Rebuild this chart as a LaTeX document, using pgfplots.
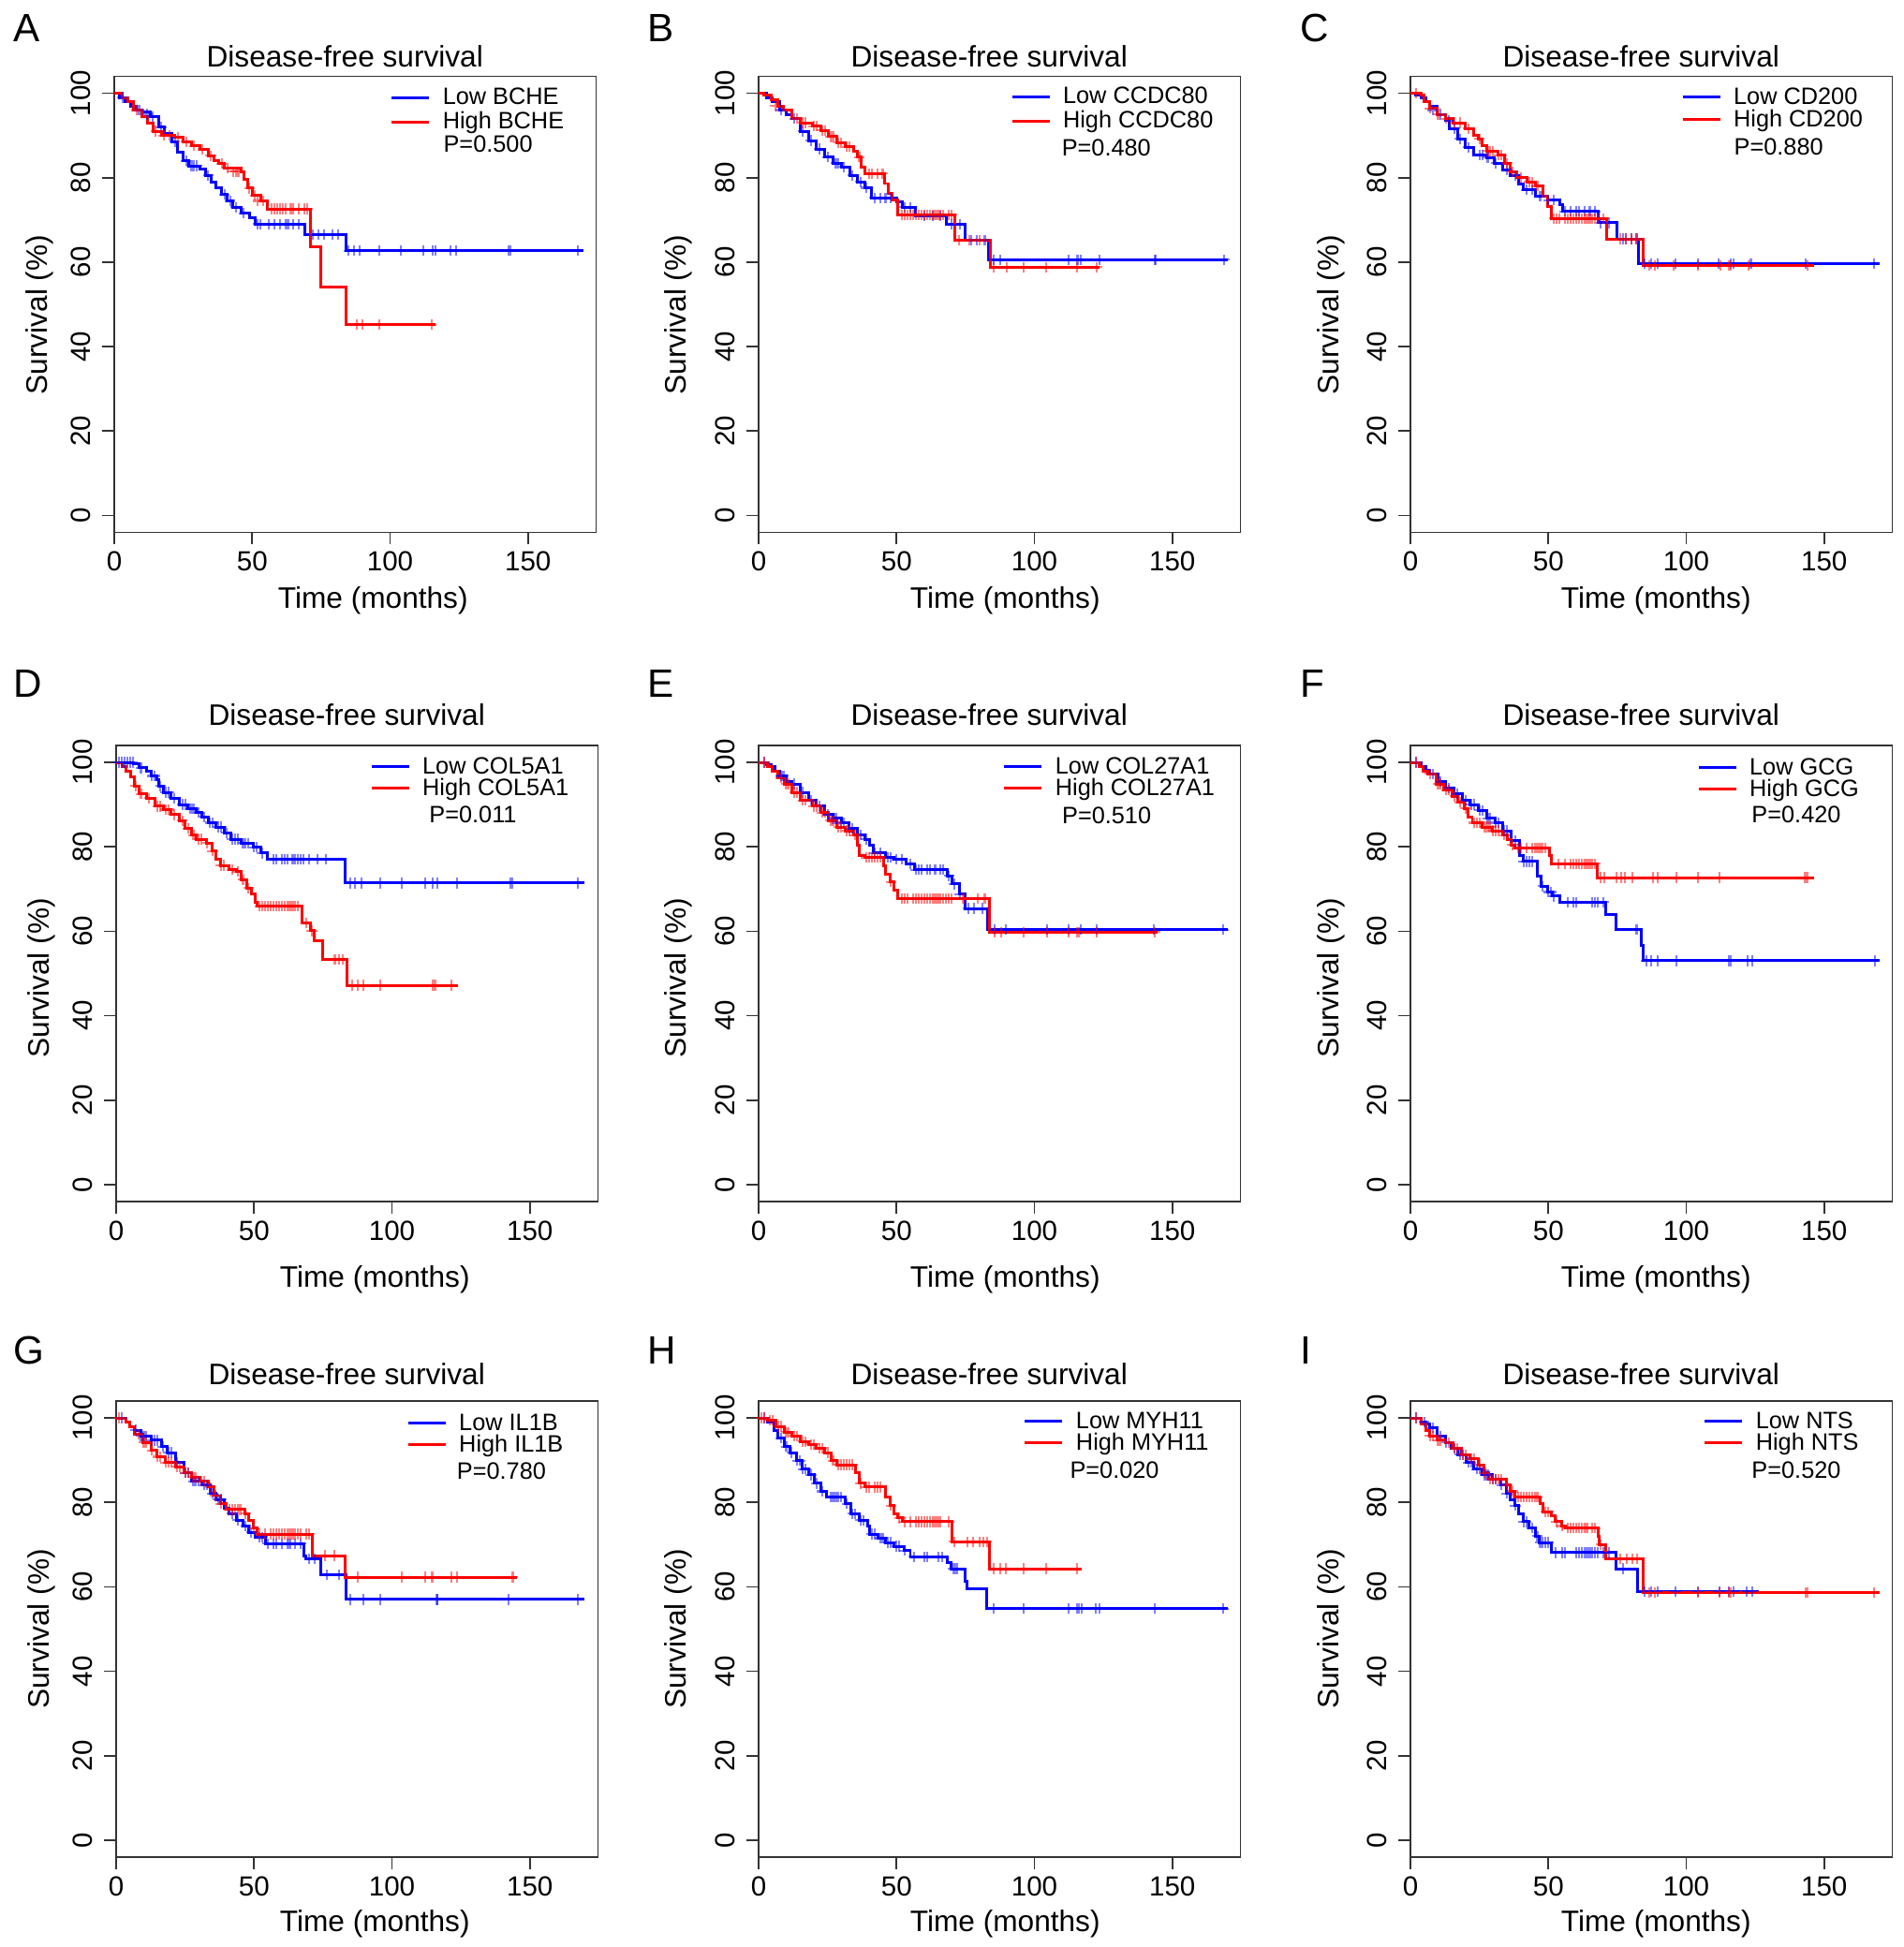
\documentclass[border=0pt]{standalone}
\usepackage{fontspec}
\setmainfont{Liberation Sans}
\usepackage{pgfplots}
\pgfplotsset{compat=1.18}

\newcommand\legfont{\fontsize{7.2}{8.6}\selectfont}
\newcommand\titfont{\fontsize{9}{10.8}\selectfont}
\newcommand\labfont{\fontsize{9}{10.8}\selectfont}
\newcommand\ticfont{\fontsize{8.4}{10}\selectfont}
\newcommand\letfont{\fontsize{12}{14}\selectfont}

\definecolor{rblue}{RGB}{0,0,255}
\definecolor{rred}{RGB}{255,0,0}

\pgfplotsset{
  km/.style={
    scale only axis, width=5.145cm, height=4.87cm,
    anchor=south west,
    xmin=0, xmax=174.7, ymin=-4, ymax=104,
    xtick={0,50,100,150}, ytick={0,20,40,60,80,100},
    xtick pos=bottom, ytick pos=left,
    tick align=outside, major tick length=0.13cm,
    axis line style={black!80, line width=0.5pt},
    tick style={black!80, line width=0.5pt},
    /pgf/number format/assume math mode=true,
    tick label style={font=\ticfont},
    xticklabel style={anchor=north, inner xsep=0pt, inner ysep=0.07cm},
    yticklabel style={rotate=90, anchor=south, inner xsep=0pt, inner ysep=0.115cm},
    title=Disease-free survival,
    every axis title/.style={at={(0.5,1)}, anchor=base, font=\titfont, xshift=-0.11cm},
    xlabel={Time (months)},
    ylabel={Survival (\%)},
    every axis x label/.style={at={(axis description cs:0.5,0)}, anchor=base, font=\labfont},
    every axis y label/.style={anchor=base, rotate=90, font=\labfont},
    legend cell align=left,
    legend style={draw=none, fill=none, inner sep=0pt, outer sep=0pt,
      anchor=north west, font=\legfont, row sep=0.02cm,
      /tikz/every odd column/.append style={column sep=0.13cm},
      nodes={inner sep=0pt, text height=0.18cm, text depth=0.03cm}},
    legend image code/.code={\draw[##1, line width=0.85pt] (0cm,0cm) -- (0.4cm,0cm);},
  },
  row1/.style={title style={yshift=0.10cm}, xlabel style={yshift=-0.81cm}},
  row2/.style={title style={yshift=0.21cm}, xlabel style={yshift=-0.92cm}},
  row3/.style={title style={yshift=0.17cm}, xlabel style={yshift=-0.79cm}},
  lowc/.style={const plot, no marks, color=rblue, line width=0.85pt},
  highc/.style={const plot, no marks, color=rred, line width=0.85pt},
  lowm/.style={only marks, mark=+, color=rblue, mark size=1.6pt,
    mark options={line width=0.6pt}, opacity=0.5, forget plot},
  highm/.style={only marks, mark=+, color=rred, mark size=1.6pt,
    mark options={line width=0.6pt}, opacity=0.5, forget plot},
}

\begin{document}
\begin{tikzpicture}
\useasboundingbox (0,0) rectangle (20.32,20.79);

% panel letters
\node[anchor=west, inner sep=0pt, font=\letfont] at (0.14,20.49) {A};
\node[anchor=west, inner sep=0pt, font=\letfont] at (6.91,20.49) {B};
\node[anchor=west, inner sep=0pt, font=\letfont] at (13.88,20.49) {C};
\node[anchor=west, inner sep=0pt, font=\letfont] at (0.14,13.485) {D};
\node[anchor=west, inner sep=0pt, font=\letfont] at (6.91,13.485) {E};
\node[anchor=west, inner sep=0pt, font=\letfont] at (13.88,13.485) {F};
\node[anchor=west, inner sep=0pt, font=\letfont] at (0.14,6.37) {G};
\node[anchor=west, inner sep=0pt, font=\letfont] at (6.91,6.37) {H};
\node[anchor=west, inner sep=0pt, font=\letfont] at (13.88,6.37) {I};

% ---------- A: BCHE
\begin{axis}[km, row1, at={(1.22cm,15.105cm)},
  xlabel style={xshift=0.19cm},
  ylabel style={at={(axis description cs:-0.139,0.477)}},
  legend style={at={(0.573,0.975)}, row sep=0.05cm}]
\addplot[lowc] coordinates {(0,100) (2,99) (4,98) (6,97) (8,96) (10,95.5) (13,94.5) (16,92) (18,90.5) (21,88.5) (23,86) (25,84) (27,82.8) (31,82) (33,80.5) (35,79) (37,77.5) (39,76) (41,74.5) (43,73) (46,71.6) (49,70.5) (51,69) (69,66.5) (84,62.7) (170,62.7)};
\addlegendentry{Low BCHE}
\addplot[highc] coordinates {(0,100) (3,99) (5,98) (7,96) (10,94.5) (12,93) (14,91) (17,90) (22,89.6) (25,88.5) (28,87.5) (31,86.7) (34,85.2) (36,84) (38,83.3) (40,82.3) (46,81.4) (47,79.5) (48.5,77.5) (50,75.8) (53,74.5) (55.5,72.6) (71.2,63.6) (75,54.2) (84,45.2) (116.5,45.2)};
\addlegendentry{High BCHE}
\addplot[lowm] coordinates {(3,99) (9,96) (12,95) (14,94.5) (17,92) (22,88.5) (26,84) (28,82.8) (29,82.8) (30,82.8) (34,80.5) (40,76) (42,74.5) (44,73) (47,71.6) (52,69) (53,69) (56,69) (58,69) (60,69) (62,69) (63,69) (65,69) (67,69) (72,66.5) (74,66.5) (76,66.5) (79,66.5) (81,66.5) (85,62.7) (87,62.7) (89,62.7) (96,62.7) (104,62.7) (112,62.7) (115.5,62.7) (116.5,62.7) (122,62.7) (124,62.7) (143,62.7) (143.6,62.7) (168,62.7)};
\addplot[highm] coordinates {(8,96) (15,91) (18,90) (20,90) (23,89.6) (26,88.5) (29,87.5) (32,86.7) (35,85.2) (39,83.3) (41,82.3) (43,81.4) (44,81.4) (45,81.4) (49,77.5) (51,75.8) (52,74.5) (54,74.5) (57,72.6) (58,72.6) (59,72.6) (60,72.6) (61,72.6) (62,72.6) (64,72.6) (65,72.6) (67,72.6) (69,72.6) (70,72.6) (88,45.2) (90,45.2) (96,45.2) (115,45.2)};
\node[anchor=base west, inner sep=0pt, font=\legfont] at (axis description cs:0.682,0.833) {P=0.500};
\end{axis}

% ---------- B: CCDC80
\begin{axis}[km, row1, at={(8.10cm,15.105cm)},
  xlabel style={xshift=0.06cm},
  ylabel style={at={(axis description cs:-0.15,0.477)}},
  legend style={at={(0.523,0.977)}, row sep=0.05cm}]
\addplot[lowc] coordinates {(0,100) (3,99) (5,98) (7.5,96) (10,95) (12,94) (15,91) (18,88.8) (21,86.8) (24,84.9) (27,83.4) (30,82.5) (33,80.5) (35.8,79) (38.7,77.6) (41,75.2) (50,74.2) (52,73) (57,71) (68,68.9) (75,65.2) (83.5,60.6) (170,60.6)};
\addlegendentry{Low CCDC80}
\addplot[highc] coordinates {(0,100) (2,99.5) (4.7,98.5) (7,97) (9,96) (12,94) (15,93) (19.5,92.2) (22.5,91.2) (25.4,89.7) (28.4,88.3) (31.3,87.3) (34.3,86.3) (35.8,84.9) (37.2,82.5) (38.7,81) (45.5,78.6) (47,76.2) (48.5,74.7) (50.5,71.2) (71,65.2) (84,58.8) (123.7,58.8)};
\addlegendentry{High CCDC80}
\addplot[lowm] coordinates {(8,96) (13,94) (16,91) (19,88.8) (22,86.8) (25,84.9) (28,83.4) (29,83.4) (31,82.5) (34,80.5) (37,79) (39,77.6) (42,75.2) (44,75.2) (46,75.2) (48,75.2) (53,73) (55,73) (60,71) (63,71) (66,71) (70,68.9) (73,68.9) (77,65.2) (79,65.2) (82,65.2) (85.3,60.6) (87.5,60.6) (112.3,60.6) (115.6,60.6) (116.7,60.6) (123.7,60.6) (143.6,60.6) (144,60.6) (168.8,60.6)};
\addplot[highm] coordinates {(6,97) (14,94) (16,93) (17,93) (20,92.2) (21,92.2) (23,91.2) (24,91.2) (26,89.7) (27,89.7) (29,88.3) (30,88.3) (32,87.3) (33,87.3) (36.5,84.9) (40,81) (41,81) (43,81) (45,81) (52,71.2) (53,71.2) (54,71.2) (55,71.2) (56,71.2) (57,71.2) (58,71.2) (59,71.2) (60,71.2) (61,71.2) (62,71.2) (63,71.2) (64,71.2) (65,71.2) (66,71.2) (67,71.2) (69,71.2) (70,71.2) (72.7,65.2) (76.4,65.2) (80.1,65.2) (85.3,58.8) (90.1,58.8) (96,58.8) (104.2,58.8) (115.3,58.8) (122.7,58.8)};
\node[anchor=base west, inner sep=0pt, font=\legfont] at (axis description cs:0.628,0.826) {P=0.480};
\end{axis}

% ---------- C: CD200
\begin{axis}[km, row1, at={(15.06cm,15.105cm)},
  xlabel style={xshift=0.05cm},
  ylabel style={at={(axis description cs:-0.148,0.477)}},
  legend style={at={(0.562,0.976)}, row sep=0.03cm}]
\addplot[lowc] coordinates {(0,100) (2,99.5) (3.8,99) (5.5,98) (6.8,96.9) (9.7,95) (12.7,93.5) (14.2,91.6) (17.1,89.2) (20,87.2) (23,85.3) (27.5,84.8) (30.4,83.4) (33.4,81.9) (36.3,80.5) (39.3,78.5) (40.8,77.1) (45.2,75.6) (49.6,74.7) (54,73.7) (55,72) (68,69.3) (75,65.5) (82.8,59.7) (170,59.7)};
\addlegendentry{Low CD200}
\addplot[highc] coordinates {(0,100) (3.8,99.5) (5,98) (6.8,96.4) (9.7,95) (12.7,94) (15.6,93) (20,91.6) (23,90.1) (24.5,89.2) (26,87.5) (27.5,86.3) (31.9,85.3) (34,83.4) (36.3,81.4) (38.5,80) (42.2,79) (45.2,78) (48.1,75.6) (49.6,73.2) (51,70.3) (71,65.5) (84.3,59.2) (146.3,59.2)};
\addlegendentry{High CD200}
\addplot[lowm] coordinates {(8,96) (11,95) (14,93.5) (16,91.6) (18,89.2) (21,87.2) (25,85.3) (26,85.3) (28,84.8) (31,83.4) (35,81.9) (38,80.5) (42,77.1) (44,77.1) (47,75.6) (50,74.7) (52,74.7) (56,72) (58,72) (60,72) (61,72) (63,72) (65,72) (67,72) (69,69.3) (72,69.3) (77,65.5) (78,65.5) (80,65.5) (82,65.5) (85,59.7) (87.3,59.7) (89.5,59.7) (96.1,59.7) (104.2,59.7) (111.6,59.7) (116.1,59.7) (117.2,59.7) (123.4,59.7) (143.4,59.7) (168.2,59.7)};
\addplot[highm] coordinates {(2,100) (7,96.4) (10,95) (13,94) (16,93) (18,93) (21,91.6) (25,89.2) (28,86.3) (29,86.3) (30,86.3) (32,85.3) (33,85.3) (35,83.4) (37,81.4) (40,80) (43,79) (44,79) (46,78) (52,70.3) (53,70.3) (54,70.3) (56,70.3) (57,70.3) (58,70.3) (59,70.3) (60,70.3) (61,70.3) (62,70.3) (63,70.3) (64,70.3) (65,70.3) (66,70.3) (67,70.3) (68,70.3) (70,70.3) (76,65.5) (78,65.5) (80,65.5) (82,65.5) (86.5,59.2) (88.7,59.2) (95.4,59.2) (104.2,59.2) (112.4,59.2) (115.3,59.2) (116,59.2) (122.7,59.2) (144.1,59.2)};
\node[anchor=base west, inner sep=0pt, font=\legfont] at (axis description cs:0.6705,0.8275) {P=0.880};
\end{axis}

% ---------- D: COL5A1
\begin{axis}[km, row2, at={(1.24cm,7.96cm)},
  xlabel style={xshift=0.19cm},
  ylabel style={at={(axis description cs:-0.139,0.49)}},
  legend style={at={(0.527,0.975)}}]
\addplot[lowc] coordinates {(0,100) (6.2,99.7) (8.2,98.7) (11,97.8) (12.6,96.8) (14.8,95.8) (15.6,94.4) (17,92.9) (20,91.5) (23,90) (26,89) (29,88.1) (31,87.1) (33.3,85.7) (36.3,84.7) (39.3,83.3) (41.5,81.8) (45.2,80.9) (49.7,79.9) (52.6,78.5) (54.8,77) (83,71.4) (169.7,71.4)};
\addlegendentry{Low COL5A1}
\addplot[highc] coordinates {(0,100) (2.2,99) (3.7,98) (5.2,96.5) (6.7,94.4) (8.2,92.5) (11,91.5) (14,89.6) (17,88.8) (20,87.6) (23,86.2) (25,84.3) (27.4,82.8) (28.9,81.8) (32.6,80.9) (34.8,79) (36.3,77) (37.8,75.6) (40.8,74.6) (43.7,74.1) (45.2,72.2) (47.4,70.2) (48.9,68.8) (50.4,66.9) (51.1,65.9) (67.4,62) (70.4,60.1) (71.9,57.7) (74.8,53.3) (83.7,47.2) (123.8,47.2)};
\addlegendentry{High COL5A1}
\addplot[lowm] coordinates {(1,100) (2,100) (3,100) (4,100) (5,100) (6,100) (9,98.7) (13,96.8) (14,96.8) (16,94.4) (18,92.9) (19,92.9) (21,91.5) (24,90) (25,90) (27,89) (28,89) (30,88.1) (32,87.1) (34,85.7) (35,85.7) (37,84.7) (38,84.7) (40,83.3) (42,81.8) (43,81.8) (44,81.8) (46,80.9) (47,80.9) (48,80.9) (50,79.9) (51,79.9) (53,78.5) (57,77) (58,77) (60,77) (61,77) (62,77) (64,77) (65,77) (66,77) (67,77) (68,77) (70,77) (73,77) (76,77) (84.9,71.4) (86.7,71.4) (88.9,71.4) (95.6,71.4) (103.7,71.4) (111.9,71.4) (114.9,71.4) (116.6,71.4) (123.5,71.4) (143,71.4) (143.5,71.4) (167.5,71.4)};
\addplot[highm] coordinates {(7,94.4) (9,92.5) (12,91.5) (15,89.6) (16,89.6) (18,88.8) (19,88.8) (21,87.6) (24,86.2) (26,84.3) (28,82.8) (30,81.8) (31,81.8) (33,80.9) (35,79) (38,75.6) (39,75.6) (42,74.6) (44,74.1) (46,72.2) (48,70.2) (52,65.9) (53,65.9) (54,65.9) (55,65.9) (56,65.9) (57,65.9) (58,65.9) (59,65.9) (60,65.9) (61,65.9) (62,65.9) (63,65.9) (64,65.9) (65,65.9) (66,65.9) (69,62) (71,60.1) (79.3,53.3) (80.8,53.3) (82.3,53.3) (85.5,47.2) (87.7,47.2) (89.7,47.2) (95.6,47.2) (114.9,47.2) (115.6,47.2) (121.5,47.2)};
\node[anchor=base west, inner sep=0pt, font=\legfont] at (axis description cs:0.6486,0.830) {P=0.011};
\end{axis}

% ---------- E: COL27A1
\begin{axis}[km, row2, at={(8.10cm,7.96cm)},
  xlabel style={xshift=0.06cm},
  ylabel style={at={(axis description cs:-0.15,0.49)}},
  legend style={at={(0.507,0.975)}}]
\addplot[lowc] coordinates {(0,100) (3,99.5) (4.7,99) (6,98) (7.7,96.8) (10,95.5) (12.1,94.9) (15,92.9) (18,91) (21,89.6) (24,87.6) (26.9,86.7) (29.9,85.7) (32.8,84.3) (35.8,82.8) (38.7,81.8) (40.2,80.4) (41.7,78.5) (46.1,77.5) (49.1,77) (53.5,76) (56.4,74.6) (68.3,73.1) (70.2,71.2) (72.7,68.8) (74.9,65.4) (83,60.4) (170.2,60.4)};
\addlegendentry{Low COL27A1}
\addplot[highc] coordinates {(0,100) (3.2,99) (5,98) (6.9,96.3) (9.2,94.9) (12.1,92.9) (15,91) (19.5,89.6) (22.5,88.1) (25.4,86.2) (28.4,84.7) (31.3,83.8) (34.3,82.8) (35.8,80.4) (36.5,78) (38.7,77.5) (45.4,75.6) (46.1,73.6) (47.6,71.7) (49,69.8) (50.5,67.8) (83.8,59.8) (144.8,59.8)};
\addlegendentry{High COL27A1}
\addplot[lowm] coordinates {(2,100) (8,96.8) (9,96.8) (13,94.9) (16,92.9) (19,91) (22,89.6) (25,87.6) (27,86.7) (28,86.7) (30,85.7) (31,85.7) (33,84.3) (34,84.3) (37,82.8) (39,81.8) (42,78.5) (44,78.5) (47,77.5) (48,77.5) (50,77) (52,77) (55,76) (57,74.6) (58,74.6) (59,74.6) (61,74.6) (62,74.6) (64,74.6) (66,74.6) (67,74.6) (69,73.1) (71,71.2) (73,68.8) (76,65.4) (78,65.4) (81,65.4) (85.6,60.4) (89.7,60.4) (104.5,60.4) (112.3,60.4) (116.7,60.4) (122.7,60.4) (143.3,60.4) (168.5,60.4)};
\addplot[highm] coordinates {(2,100) (8,96.3) (10,94.9) (11,94.9) (13,92.9) (14,92.9) (16,91) (17,91) (20,89.6) (21,89.6) (23,88.1) (24,88.1) (26,86.2) (27,86.2) (29,84.7) (30,84.7) (32,83.8) (33,83.8) (35,82.8) (39,77.5) (40,77.5) (41,77.5) (42,77.5) (43,77.5) (44,77.5) (48,71.7) (52,67.8) (53,67.8) (54,67.8) (56,67.8) (57,67.8) (58,67.8) (59,67.8) (60,67.8) (61,67.8) (62,67.8) (63,67.8) (64,67.8) (65,67.8) (66,67.8) (67,67.8) (68,67.8) (69,67.8) (70,67.8) (74.2,67.8) (79.4,67.8) (82,67.8) (85.6,59.8) (87.8,59.8) (96.1,59.8) (104.5,59.8) (112.3,59.8) (115.3,59.8) (116,59.8) (122.7,59.8) (143.6,59.8)};
\node[anchor=base west, inner sep=0pt, font=\legfont] at (axis description cs:0.6286,0.829) {P=0.510};
\end{axis}

% ---------- F: GCG
\begin{axis}[km, row2, at={(15.06cm,7.96cm)},
  xlabel style={xshift=0.05cm},
  ylabel style={at={(axis description cs:-0.148,0.49)}},
  legend style={at={(0.595,0.973)}}]
\addplot[lowc] coordinates {(0,100) (4,99) (5.5,98.2) (6.9,97.3) (9.9,95.4) (12.8,93.9) (15.8,92.5) (18.8,91) (21.7,90) (24.7,88.6) (27.6,86.7) (30.6,85.7) (33.5,83.8) (36.5,81.4) (39.4,78) (40.9,76.5) (46.1,73.1) (47.5,70.7) (49.8,69.3) (51.5,68.3) (54,66.9) (70.9,64) (74.6,60.4) (83.7,56.7) (84.5,53) (170,53)};
\addlegendentry{Low GCG}
\addplot[highc] coordinates {(0,100) (3.2,99) (4.5,98) (6.2,97.3) (9.2,94.9) (12.1,93.4) (15.1,92) (17.3,90.5) (19.5,89.1) (21,87.1) (22.4,85.7) (26.1,84.7) (29.8,83.8) (33.5,82.8) (35,81.8) (36.5,80.4) (38,79.7) (50.5,78) (51.2,76) (67.8,72.7) (146.5,72.7)};
\addlegendentry{High GCG}
\addplot[lowm] coordinates {(2,100) (8,97.3) (11,95.4) (14,93.9) (17,92.5) (20,91) (22,90) (23,90) (25,88.6) (26,88.6) (28,86.7) (29,86.7) (31,85.7) (32,85.7) (34,83.8) (35,83.8) (38,81.4) (41,76.5) (42,76.5) (43,76.5) (44,76.5) (48,70.7) (50,69.3) (51,69.3) (52,68.3) (57,66.9) (59,66.9) (60,66.9) (66,66.9) (67,66.9) (68,66.9) (70,66.9) (82,60.4) (85.5,53) (87.4,53) (89.6,53) (96.3,53) (115.5,53) (116.2,53) (122.1,53) (124,53) (168.3,53)};
\addplot[highm] coordinates {(2,100) (7,97.3) (10,94.9) (11,94.9) (13,93.4) (14,93.4) (16,92) (18,90.5) (20,89.1) (23,85.7) (24,85.7) (25,85.7) (27,84.7) (28,84.7) (29,84.7) (30,83.8) (31,83.8) (32,83.8) (34,82.8) (37,80.4) (39,79.7) (40,79.7) (42,79.7) (44,79.7) (45,79.7) (46,79.7) (47,79.7) (48,79.7) (49,79.7) (53.5,76) (56,76) (58,76) (59,76) (60,76) (61,76) (62,76) (63,76) (64,76) (65,76) (66,76) (67,76) (69,72.7) (70.4,72.7) (74.6,72.7) (76.3,72.7) (77.8,72.7) (80.5,72.7) (87.9,72.7) (89.6,72.7) (96.3,72.7) (104.1,72.7) (112.1,72.7) (142.8,72.7) (143.8,72.7)};
\node[anchor=base west, inner sep=0pt, font=\legfont] at (axis description cs:0.707,0.830) {P=0.420};
\end{axis}

% ---------- G: IL1B
\begin{axis}[km, row3, at={(1.24cm,0.96cm)},
  xlabel style={xshift=0.19cm},
  ylabel style={at={(axis description cs:-0.139,0.50)}},
  legend style={at={(0.603,0.973)}}]
\addplot[lowc] coordinates {(0,100) (3.7,99) (5,98) (6.7,97.1) (8.9,95.7) (12.6,94.7) (16.3,93.2) (18.5,91.8) (21.5,89.4) (24.5,87) (27.4,85) (31.1,84.1) (34.1,82.1) (36.3,80.7) (39.3,78.7) (40.8,77.3) (43.7,75.8) (45.9,74.4) (48.2,72.9) (50.4,71.8) (54.1,70.2) (68.2,67.3) (68.9,66.7) (74.1,62.8) (83.4,57) (169.7,57)};
\addlegendentry{Low IL1B}
\addplot[highc] coordinates {(0,100) (3.7,99) (5,98) (6.7,96.1) (9.6,94.2) (12.6,92.3) (14.8,90.8) (17.8,89.4) (21.5,88.4) (24.5,87) (27.4,86) (30.4,85) (33.3,83.6) (35.6,81.6) (37.8,79.7) (40,78.3) (46.7,77.3) (48.2,75.8) (49.7,73.9) (51.1,72.5) (71.1,67.4) (83,62.3) (145.2,62.3)};
\addlegendentry{High IL1B}
\addplot[lowm] coordinates {(2,100) (7,97.1) (9,95.7) (10,95.7) (11,95.7) (13,94.7) (14,94.7) (15,94.7) (17,93.2) (19,91.8) (20,91.8) (22,89.4) (25,87) (26,87) (28,85) (29,85) (30,85) (32,84.1) (33,84.1) (35,82.1) (37,80.7) (38,80.7) (42,77.3) (44,75.8) (47,74.4) (49,72.9) (52,71.8) (53,71.8) (55,70.2) (57,70.2) (58,70.2) (60,70.2) (62,70.2) (63,70.2) (65,70.2) (67,70.2) (70,66.7) (72,66.7) (76.3,62.8) (80.8,62.8) (84.9,57) (89.7,57) (95.6,57) (116.3,57) (116.6,57) (142.3,57) (167.5,57)};
\addplot[highm] coordinates {(1,100) (8,96.1) (10,94.2) (11,94.2) (13,92.3) (15,90.8) (16,90.8) (18,89.4) (19,89.4) (20,89.4) (22,88.4) (23,88.4) (25,87) (26,87) (28,86) (29,86) (31,85) (32,85) (34,83.6) (36,81.6) (38,79.7) (41,78.3) (42,78.3) (43,78.3) (44,78.3) (45,78.3) (47,77.3) (50,73.9) (52,72.5) (54,72.5) (56,72.5) (57,72.5) (58,72.5) (59,72.5) (60,72.5) (61,72.5) (62,72.5) (63,72.5) (64,72.5) (65,72.5) (66,72.5) (67,72.5) (69,72.5) (70,72.5) (75.6,67.4) (79,67.4) (87.7,62.3) (103.7,62.3) (111.9,62.3) (114.6,62.3) (121.5,62.3) (123.5,62.3) (143.8,62.3)};
\node[anchor=base west, inner sep=0pt, font=\legfont] at (axis description cs:0.706,0.8277) {P=0.780};
\end{axis}

% ---------- H: MYH11
\begin{axis}[km, row3, at={(8.10cm,0.96cm)},
  xlabel style={xshift=0.06cm},
  ylabel style={at={(axis description cs:-0.15,0.50)}},
  legend style={at={(0.55,0.977)}}]
\addplot[lowc] coordinates {(0,100) (3.3,99) (5.5,97.1) (6.9,95.2) (9.2,93.2) (11.4,91.8) (13.6,89.9) (15.8,87.9) (18,86.5) (20.2,84.5) (22.5,82.6) (24.7,81.2) (31.3,79.7) (33.5,77.3) (36.5,75.8) (39.5,74.4) (40.2,72.5) (43.2,71.5) (46.1,70.5) (49.1,69.6) (52.8,68.6) (55,67.1) (68.3,65.7) (69.7,64.3) (74.9,61.4) (75.7,59.6) (82.8,54.8) (170.2,54.8)};
\addlegendentry{Low MYH11}
\addplot[highc] coordinates {(0,100) (3.3,99.5) (6.2,98) (9.2,96.6) (12.1,95.7) (15.1,94.4) (18,93.7) (21,92.8) (23.9,91.8) (26.2,89.9) (28.4,88.9) (35,87) (36.5,84.5) (38.7,83.6) (46.1,81.2) (47.6,79.2) (49.1,77.3) (50.5,76.3) (52,75.4) (70,70.7) (83.8,64.3) (117,64.3)};
\addlegendentry{High MYH11}
\addplot[lowm] coordinates {(2,100) (8,95.2) (10,93.2) (12,91.8) (14,89.9) (15,89.9) (16,87.9) (17,87.9) (19,86.5) (21,84.5) (23,82.6) (26,81.2) (27,81.2) (28,81.2) (29,81.2) (30,81.2) (32,79.7) (34,77.3) (35,77.3) (37,75.8) (38,75.8) (41,72.5) (42,72.5) (44,71.5) (45,71.5) (47,70.5) (48,70.5) (50,69.6) (51,69.6) (53,68.6) (56.4,67.1) (60.1,67.1) (61,67.1) (65.3,67.1) (66.5,67.1) (70.5,64.3) (71.2,64.3) (72,64.3) (85.3,54.8) (96.1,54.8) (112.3,54.8) (115.3,54.8) (116,54.8) (117,54.8) (122.2,54.8) (123.7,54.8) (143.6,54.8) (168.5,54.8)};
\addplot[highm] coordinates {(1,100) (2,100) (4,99.5) (5,99.5) (7,98) (8,98) (10,96.6) (11,96.6) (13,95.7) (14,95.7) (16,94.4) (17,94.4) (19,93.7) (20,93.7) (22,92.8) (23,92.8) (25,91.8) (27,89.9) (29,88.9) (30,88.9) (31,88.9) (32,88.9) (33,88.9) (34,88.9) (37,84.5) (39,83.6) (40,83.6) (42,83.6) (43,83.6) (44,83.6) (48,79.2) (51,76.3) (53,75.4) (55,75.4) (57,75.4) (58,75.4) (59,75.4) (60,75.4) (61,75.4) (62,75.4) (63,75.4) (64,75.4) (65,75.4) (66,75.4) (69,75.4) (71,70.7) (75.7,70.7) (77.9,70.7) (80.1,70.7) (81.6,70.7) (82.8,70.7) (85.3,64.3) (87.5,64.3) (89.7,64.3) (96.1,64.3) (104.2,64.3) (115.3,64.3)};
\node[anchor=base west, inner sep=0pt, font=\legfont] at (axis description cs:0.645,0.8314) {P=0.020};
\end{axis}

% ---------- I: NTS
\begin{axis}[km, row3, at={(15.06cm,0.96cm)},
  xlabel style={xshift=0.05cm},
  ylabel style={at={(axis description cs:-0.148,0.50)}},
  legend style={at={(0.608,0.977)}}]
\addplot[lowc] coordinates {(0,100) (3.8,99) (5.5,98.5) (6.8,97.6) (9.7,95.7) (12.7,94.2) (14.9,92.8) (17.1,91.3) (20.1,89.4) (23,87.9) (26,86.5) (29.7,85.5) (32.6,84.1) (34.8,82.1) (36.3,80.7) (37.8,79.2) (39.3,77.3) (40.8,75.4) (43,73.9) (45.2,72) (46.7,70.5) (51.1,68.1) (74.4,64.3) (82.4,58.9) (126.4,58.9)};
\addlegendentry{Low NTS}
\addplot[highc] coordinates {(0,100) (3.8,98.5) (5.5,97) (6.8,95.7) (9.7,94.7) (12.7,94.2) (15.6,92.8) (18.6,91.3) (21.6,90.3) (24.5,88.9) (26.7,87) (28.2,85.5) (34.8,84.1) (36.3,82.6) (37.8,81.2) (47,79.7) (48.1,77.8) (51.1,76.8) (52.6,75.4) (54.8,74.4) (56.3,73.9) (68.1,72) (68.5,70) (70.7,66.7) (84.3,58.6) (170,58.6)};
\addlegendentry{High NTS}
\addplot[lowm] coordinates {(2,100) (5,99) (8,97.6) (11,95.7) (13,94.2) (16,92.8) (18,91.3) (19,91.3) (21,89.4) (22,89.4) (24,87.9) (25,87.9) (27,86.5) (28,86.5) (30,85.5) (31,85.5) (33,84.1) (35,82.1) (38,79.2) (41,75.4) (42,75.4) (44,73.9) (46,72) (47,70.5) (48,70.5) (49,70.5) (50,70.5) (52.6,68.1) (55,68.1) (56,68.1) (60,68.1) (61,68.1) (62,68.1) (63,68.1) (64,68.1) (65,68.1) (66,68.1) (67,68.1) (68,68.1) (70,68.1) (72,68.1) (77,64.3) (85,58.9) (87.3,58.9) (89.5,58.9) (96.1,58.9) (104.2,58.9) (111.9,58.9) (115.3,58.9) (117.2,58.9) (122,58.9) (123.8,58.9)};
\addplot[highm] coordinates {(2,100) (7,95.7) (8,95.7) (10,94.7) (11,94.7) (14,94.2) (16,92.8) (17,92.8) (19,91.3) (20,91.3) (22,90.3) (23,90.3) (25,88.9) (27,87) (29,85.5) (30,85.5) (31,85.5) (32,85.5) (33,85.5) (35,84.1) (37,82.6) (39,81.2) (40,81.2) (41,81.2) (42,81.2) (43,81.2) (44,81.2) (45,81.2) (46,81.2) (49,77.8) (50,77.8) (53,75.4) (55,74.4) (57,73.9) (58,73.9) (59,73.9) (60,73.9) (61,73.9) (62,73.9) (63,73.9) (64,73.9) (66,73.9) (67,73.9) (69,70) (76.2,66.7) (78.4,66.7) (80.6,66.7) (82.1,66.7) (86.5,58.6) (88.7,58.6) (104.2,58.6) (111.9,58.6) (115.3,58.6) (116,58.6) (143.4,58.6) (144.1,58.6) (168.2,58.6)};
\node[anchor=base west, inner sep=0pt, font=\legfont] at (axis description cs:0.707,0.8314) {P=0.520};
\end{axis}
\end{tikzpicture}
\end{document}
